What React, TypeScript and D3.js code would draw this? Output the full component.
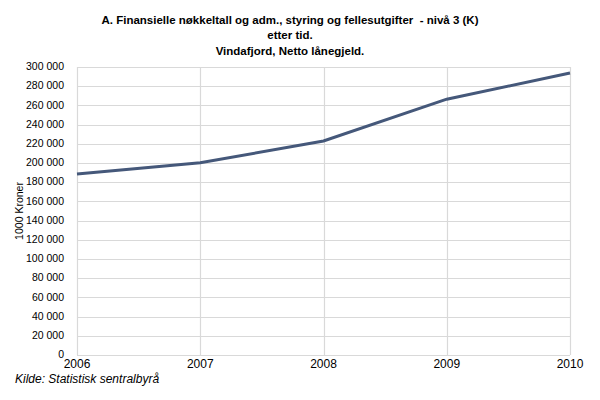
import React, { useEffect, useRef } from 'react';
import * as d3 from 'd3';

const years = [2006, 2007, 2008, 2009, 2010];
const values = [188500, 200200, 223000, 266500, 293700];
const yTicks = d3.range(0, 300001, 20000);
const titleLines = [
  'A. Finansielle nøkkeltall og adm., styring og fellesutgifter  - nivå 3 (K)',
  'etter tid.',
  'Vindafjord, Netto lånegjeld.',
];
const yAxisTitle = '1000 Kroner';
const source = 'Kilde: Statistisk sentralbyrå';

const App: React.FC = () => {
  const svgRef = useRef<SVGSVGElement>(null);

  useEffect(() => {
    document.body.style.margin = '0';
    if (!svgRef.current) return;

    const width = 600;
    const height = 400;
    const margin = { top: 67, right: 30, bottom: 45, left: 77 };
    const font = '"Liberation Sans", Arial, sans-serif';
    const grid = '#d9d9d9';

    const svg = d3.select(svgRef.current);
    svg.selectAll('*').remove();

    svg.append('rect').attr('width', width).attr('height', height).attr('fill', '#fff');

    const x = d3.scaleLinear()
      .domain([years[0], years[years.length - 1]])
      .range([margin.left, width - margin.right]);

    const y = d3.scaleLinear()
      .domain([0, 300000])
      .range([height - margin.bottom, margin.top]);

    const fmt = (v: number) => d3.format(',')(v).replace(/,/g, ' ');

    // Horizontal grid + y labels
    const yg = svg.append('g');
    yg.selectAll('line')
      .data(yTicks)
      .join('line')
      .attr('x1', margin.left)
      .attr('x2', width - margin.right)
      .attr('y1', d => Math.round(y(d)) + 0.5)
      .attr('y2', d => Math.round(y(d)) + 0.5)
      .attr('stroke', grid)
      .attr('stroke-width', 1.2);

    yg.selectAll('text')
      .data(yTicks)
      .join('text')
      .attr('x', margin.left - 13)
      .attr('y', d => y(d))
      .attr('dy', '0.3em')
      .attr('text-anchor', 'end')
      .attr('font-family', font)
      .attr('font-size', 10.5)
      .attr('fill', '#000')
      .text(d => fmt(d));

    // Vertical grid + x labels
    const xg = svg.append('g');
    xg.selectAll('line')
      .data(years)
      .join('line')
      .attr('x1', d => Math.round(x(d)) + 0.5)
      .attr('x2', d => Math.round(x(d)) + 0.5)
      .attr('y1', y(300000))
      .attr('y2', y(0))
      .attr('stroke', grid)
      .attr('stroke-width', 1.2);

    xg.selectAll('text')
      .data(years)
      .join('text')
      .attr('x', d => x(d))
      .attr('y', height - margin.bottom + 13)
      .attr('text-anchor', 'middle')
      .attr('font-family', font)
      .attr('font-size', 12)
      .attr('fill', '#000')
      .text(d => String(d));

    // Line
    const line = d3.line<number>()
      .x((_, i) => x(years[i]))
      .y(d => y(d));

    svg.append('path')
      .datum(values)
      .attr('fill', 'none')
      .attr('stroke', '#45587a')
      .attr('stroke-width', 3)
      .attr('d', line);

    // Title
    svg.append('g')
      .selectAll('text')
      .data(titleLines)
      .join('text')
      .attr('x', 290)
      .attr('y', (_, i) => 23.5 + i * 15.5)
      .attr('text-anchor', 'middle')
      .attr('font-family', font)
      .attr('font-weight', 'bold')
      .attr('font-size', 11.5)
      .attr('fill', '#000')
      .style('white-space', 'pre')
      .text(d => d);

    // Y axis title
    svg.append('text')
      .attr('transform', `translate(23,${(y(0) + y(300000)) / 2}) rotate(-90)`)
      .attr('text-anchor', 'middle')
      .attr('font-family', font)
      .attr('font-size', 10.5)
      .attr('fill', '#000')
      .text(yAxisTitle);

    // Source
    svg.append('text')
      .attr('x', 15)
      .attr('y', 382.5)
      .attr('font-family', font)
      .attr('font-style', 'italic')
      .attr('font-size', 12)
      .attr('fill', '#000')
      .text(source);
  }, []);

  return <svg ref={svgRef} width={600} height={400} style={{ display: 'block' }} />;
};

export default App;
